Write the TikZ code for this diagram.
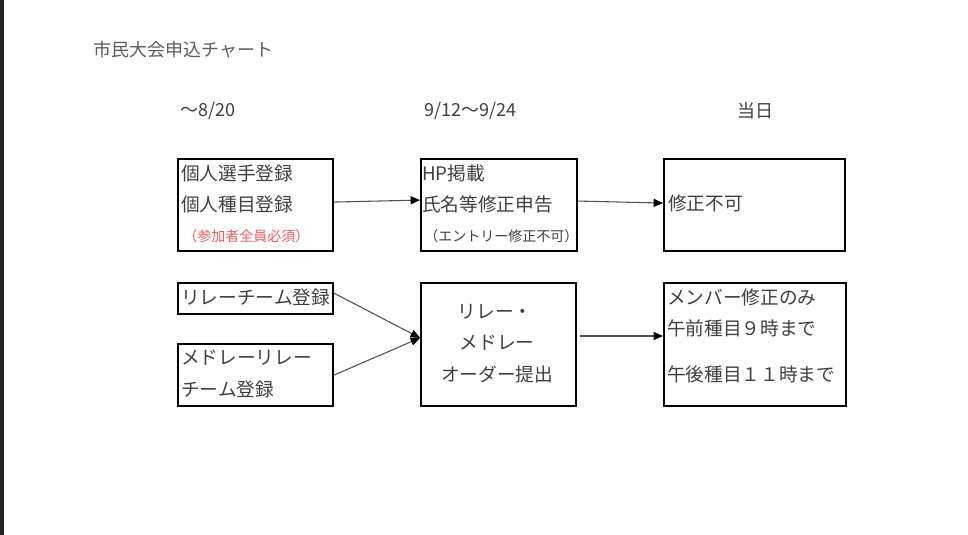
\documentclass[tikz,border=0pt]{standalone}
\usepackage{fontspec}
\setmainfont{Noto Sans CJK JP}
\usetikzlibrary{arrows.meta}
\definecolor{txt}{HTML}{404040}
\definecolor{notered}{HTML}{FF5A5A}
\definecolor{strip}{HTML}{222222}
\definecolor{lineg}{HTML}{505050}
\begin{document}
\begin{tikzpicture}[x=0.75pt,y=-0.75pt,
 box/.style={draw=black,line width=1.6pt,rectangle,inner sep=0pt,anchor=north west},
 lbl/.style={text=txt,inner sep=0pt,anchor=west,font=\fontsize{14pt}{16pt}\selectfont},
 hdr/.style={text=txt,inner sep=0pt,anchor=west,font=\fontsize{13.5pt}{16pt}\selectfont},
 small/.style={text=txt,inner sep=0pt,anchor=west,font=\fontsize{10.5pt}{12pt}\selectfont},
 arr/.style={draw=lineg,line width=0.8pt,-{Triangle[length=7pt,width=6pt,color=black]}}]
\fill[white] (0,0) rectangle (968,535);
\useasboundingbox (0,0) rectangle (968,535);
\fill[strip] (0,0) rectangle (4,535);

% title and headers
\node[hdr,text=txt!85] (title) at (93,50) {市民大会申込チャート};
\node[hdr] (h1) at (180,111) {～8/20};
\node[hdr] (h2) at (424,111) {9/12～9/24};
\node[hdr] (h3) at (737,111) {当日};

% boxes
\node[box,minimum width=116.25pt,minimum height=69pt] (A) at (177,158) {};
\node[box,minimum width=117pt,minimum height=69pt] (B) at (420,158) {};
\node[box,minimum width=135.75pt,minimum height=69pt] (C) at (663,158) {};
\node[box,minimum width=116.25pt,minimum height=23.25pt] (D) at (177,282) {};
\node[box,minimum width=116.25pt,minimum height=46.5pt] (E) at (177,343) {};
\node[box,minimum width=116.25pt,minimum height=92.25pt] (F) at (420,282) {};
\node[box,minimum width=136.5pt,minimum height=92.25pt] (G) at (663,282) {};

% box texts
\node[lbl] (a1) at (181,173) {個人選手登録};
\node[lbl] (a2) at (181,204) {個人種目登録};
\node[small,text=notered] (a3) at (183,236) {（参加者全員必須）};

\node[lbl] (b1) at (422,173) {HP掲載};
\node[lbl] (b2) at (422,204) {氏名等修正申告};
\node[small] (b3) at (424,236) {（エントリー修正不可）};

\node[lbl] (c1) at (668,203) {修正不可};

\node[lbl] (d1) at (181,297) {リレーチーム登録};
\node[lbl] (e1) at (181,358) {メドレーリレー};
\node[lbl] (e2) at (181,389) {チーム登録};

\node[lbl,anchor=center] (f1) at (495,312) {リレー・};
\node[lbl,anchor=center] (f2) at (497,343) {メドレー};
\node[lbl,anchor=center] (f3) at (497,374) {オーダー提出};

\node[lbl] (g1) at (667,297) {メンバー修正のみ};
\node[lbl] (g2) at (667,328) {午前種目９時まで};
\node[lbl] (g3) at (667,374) {午後種目１１時まで};

% connectors
\draw[arr] ([yshift=2.25pt]A.east) -- ([yshift=3.75pt]B.west);
\draw[arr] ([yshift=3pt]B.east) -- ([yshift=1.5pt]C.west);
\draw[arr] ([yshift=4pt]D.east) -- ([yshift=5pt]F.west);
\draw[arr] (E.east) -- ([yshift=5pt]F.west);
\coordinate (fg) at (580,336);
\draw[arr] (fg) -- (G.west |- fg);
\end{tikzpicture}
\end{document}
